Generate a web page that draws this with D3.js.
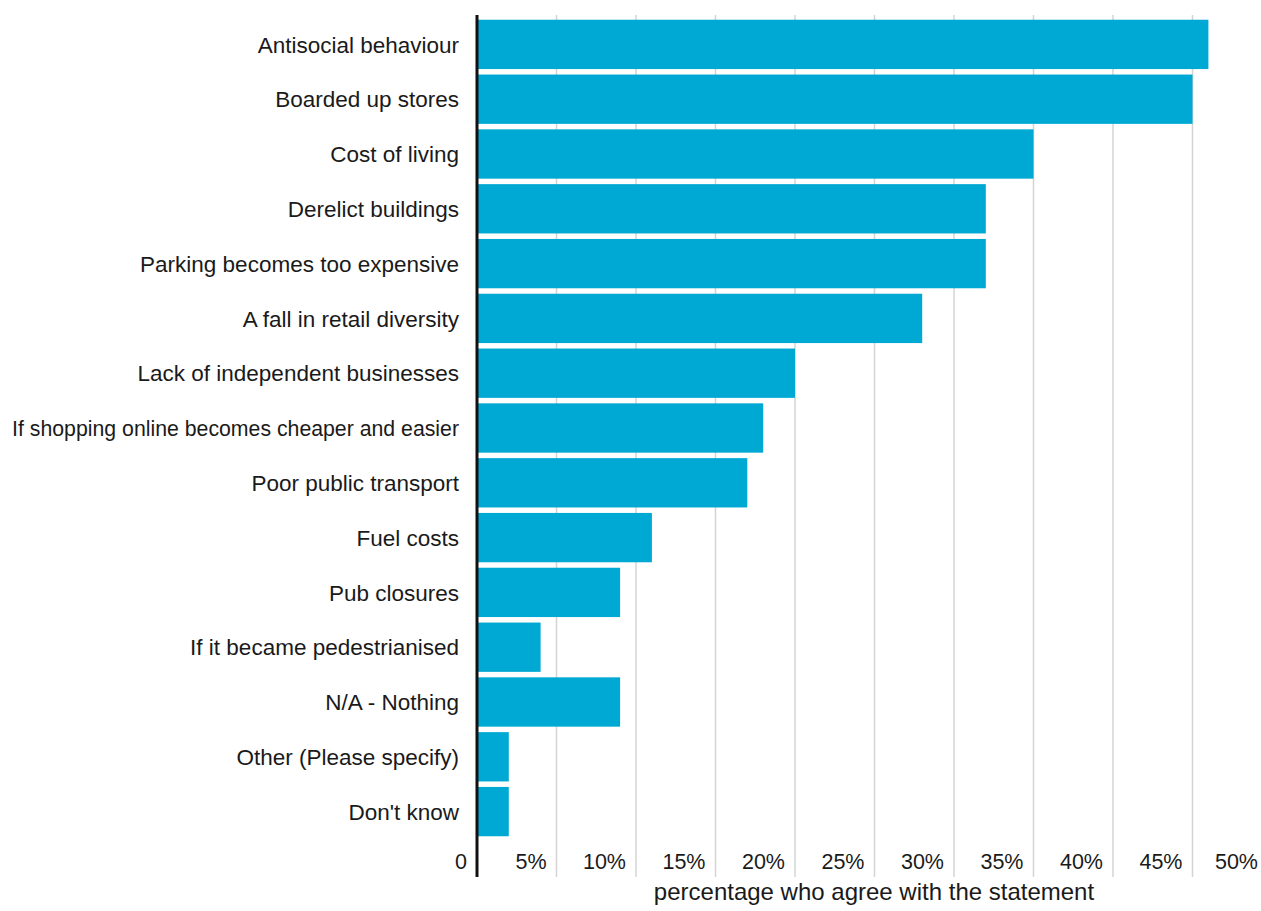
<!DOCTYPE html>
<html>
<head>
<meta charset="utf-8">
<script src="https://cdn.jsdelivr.net/npm/d3@7"></script>
<style>
  html, body { margin: 0; padding: 0; background: #fff; }
  svg { display: block; font-family: "Liberation Sans", Arial, sans-serif; }
</style>
</head>
<body>
<svg id="chart" width="1261" height="911"></svg>
<script>
const categories = [
  "Antisocial behaviour",
  "Boarded up stores",
  "Cost of living",
  "Derelict buildings",
  "Parking becomes too expensive",
  "A fall in retail diversity",
  "Lack of independent businesses",
  "If shopping online becomes cheaper and easier",
  "Poor public transport",
  "Fuel costs",
  "Pub closures",
  "If it became pedestrianised",
  "N/A - Nothing",
  "Other (Please specify)",
  "Don't know"
];
const values = [46, 45, 35, 32, 32, 28, 20, 18, 17, 11, 9, 4, 9, 2, 2];
const tickValues = [0, 5, 10, 15, 20, 25, 30, 35, 40, 45, 50];
const tickLabels = ["0", "5%", "10%", "15%", "20%", "25%", "30%", "35%", "40%", "45%", "50%"];
const axisTitle = "percentage who agree with the statement";

const svg = d3.select("#chart");
const x = d3.scaleLinear().domain([0, 50]).range([477, 1272]);
const y = d3.scaleBand().domain(categories).range([17, 839]).paddingInner(0.1).paddingOuter(0.05);

const gridTop = 15, gridBottom = 877;

// gridlines
svg.append("g").selectAll("line").data(tickValues.filter(d => d > 0)).join("line")
  .attr("x1", d => x(d)).attr("x2", d => x(d))
  .attr("y1", gridTop).attr("y2", gridBottom)
  .attr("stroke", "#d4d4d4").attr("stroke-width", 1.5);

// bars
svg.append("g").selectAll("rect").data(categories).join("rect")
  .attr("x", x(0) + 1)
  .attr("y", d => y(d))
  .attr("width", (d, i) => x(values[i]) - x(0) - 1)
  .attr("height", y.bandwidth())
  .attr("fill", "#00a8d4");

// axis line
svg.append("line")
  .attr("x1", x(0)).attr("x2", x(0))
  .attr("y1", gridTop).attr("y2", gridBottom)
  .attr("stroke", "#111").attr("stroke-width", 3);

// category labels
const labelRight = 459, labelLeft = 12;
svg.append("g").selectAll("text").data(categories).join("text")
  .attr("x", labelRight)
  .attr("y", d => y(d) + y.bandwidth() / 2)
  .attr("dy", "0.36em")
  .attr("text-anchor", "end")
  .attr("font-size", 22.5)
  .attr("fill", "#1a1a1a")
  .text(d => d)
  .each(function() {
    const w = this.getComputedTextLength();
    const avail = labelRight - labelLeft;
    if (w > avail) d3.select(this).attr("font-size", 22.5 * avail / w);
  });

// tick labels
svg.append("g").selectAll("text").data(tickValues).join("text")
  .attr("x", d => Math.min(x(d) - 10, 1258))
  .attr("y", 869)
  .attr("text-anchor", "end")
  .attr("font-size", 21.5)
  .attr("fill", "#1a1a1a")
  .text((d, i) => tickLabels[i]);

// axis title
svg.append("text")
  .attr("x", 874).attr("y", 900)
  .attr("text-anchor", "middle")
  .attr("font-size", 24)
  .attr("fill", "#1a1a1a")
  .text(axisTitle);
</script>
</body>
</html>
